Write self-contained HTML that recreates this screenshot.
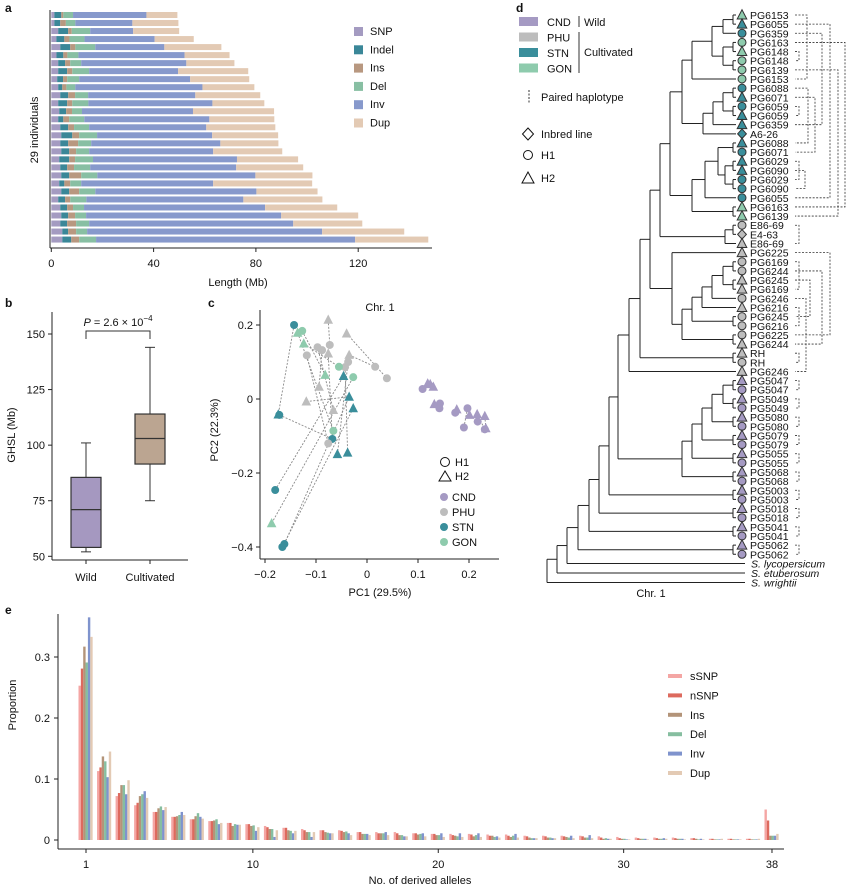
<!DOCTYPE html>
<html><head><meta charset="utf-8"><style>
html,body{margin:0;padding:0;background:#fff;}
svg{display:block;font-family:"Liberation Sans",Arial,sans-serif;}
</style></head><body>
<svg id="fig" width="851" height="889" viewBox="0 0 851 889" xmlns="http://www.w3.org/2000/svg"></svg>
<script>
// ===== Panel a data (Mb per row) =====
const aSNP=[1.2,1.2,2.7,2.0,3.5,2.0,2.7,2.7,2.3,2.7,3.5,2.7,3.1,2.7,3.5,3.9,3.5,3.9,3.1,3.5,3.9,3.1,3.9,2.7,3.5,3.9,3.5,4.3,4.3];
const aIndel=[2.7,2.3,3.9,3.1,3.9,2.7,2.7,3.5,2.3,1.6,3.1,3.5,2.7,2.0,3.1,4.3,3.1,3.1,3.9,2.7,3.1,2.0,3.1,2.7,2.7,2.7,2.7,2.3,3.5];
const aIns=[0.8,2.2,1.4,2.0,2.0,1.6,2.0,2.0,1.6,1.6,2.7,2.0,2.3,2.3,2.3,2.7,3.9,2.7,2.3,2.7,4.7,2.3,3.9,2.0,2.3,2.7,3.5,3.1,3.1];
const aDel=[3.8,3.7,7.2,5.9,7.8,4.3,4.3,6.6,4.7,3.5,5.1,6.3,3.9,5.9,5.9,7.0,5.1,5.1,7.0,6.3,6.3,4.3,6.3,6.3,4.3,4.3,5.1,4.3,6.6];
const aInv=[28.7,22.3,16.8,27.4,27.0,41.5,41.1,34.8,43.4,49.7,41.9,48.5,43.4,48.9,45.8,45.0,50.5,48.5,56.3,57.1,61.8,51.6,63.0,61.4,70.8,76.3,79.8,91.9,101.3];
const aDup=[12.1,18.0,18.0,15.3,22.3,17.6,18.8,27.4,23.1,20.3,25.4,20.3,31.7,25.4,27.0,25.8,22.7,27.0,23.9,26.2,22.3,38.7,23.9,30.9,28.2,30.1,27.0,32.1,28.6];
const aNames=["SNP","Indel","Ins","Del","Inv","Dup"];
const aTicks=[0,40,80,120];
// ===== Panel b data =====
const bGroups=["Wild","Cultivated"];
const bMin=[52,75],bQ1=[54,91.5],bMed=[71,103],bQ3=[85.5,114],bMax=[101,144];
const bTicks=[50,75,100,125,150];
// ===== Panel c data =====
const cPC1=[-0.143,-0.136,-0.127,-0.124,-0.076,-0.040,-0.118,-0.097,-0.088,-0.073,-0.076,-0.035,-0.037,-0.043,0.016,0.039,-0.055,-0.082,-0.027,-0.046,-0.094,-0.119,-0.035,-0.027,-0.066,-0.172,-0.174,-0.066,-0.068,-0.076,-0.058,-0.038,-0.180,-0.187,-0.162,-0.166,
 0.119,0.124,0.109,0.130,0.132,0.143,0.142,0.173,0.176,0.197,0.201,0.216,0.231,0.217,0.190,0.233,0.231];
const cPC2=[0.200,0.179,0.184,0.150,0.214,0.177,0.118,0.140,0.132,0.146,0.123,0.119,0.100,0.086,0.087,0.056,0.087,0.065,0.059,0.062,0.033,-0.007,0.006,-0.025,-0.030,-0.043,-0.042,-0.086,-0.108,-0.120,-0.149,-0.145,-0.246,-0.336,-0.392,-0.400,
 0.042,0.040,0.027,0.033,-0.014,-0.012,-0.025,-0.037,-0.028,-0.025,-0.043,-0.041,-0.046,-0.061,-0.077,-0.079,-0.082];
const cShape=["c","t","c","t","t","t","c","c","c","c","t","t","c","c","c","c","c","t","c","t","t","t","t","t","t","c","t","c","c","c","t","t","c","t","c","c",
 "t","t","c","t","t","c","c","c","t","c","t","t","t","c","c","t","c"];
const cGroup=["STN","GON","GON","GON","PHU","PHU","PHU","PHU","PHU","PHU","PHU","PHU","PHU","PHU","PHU","PHU","GON","GON","GON","STN","PHU","PHU","STN","STN","PHU","STN","STN","GON","STN","PHU","STN","STN","STN","GON","STN","STN",
 "CND","CND","CND","CND","CND","CND","CND","CND","CND","CND","CND","CND","CND","CND","CND","CND","CND"];
const cPairs=[[4,9],[5,15],[11,14],[6,29],[7,24],[8,20],[10,28],[1,27],[2,17],[3,16],[0,26],[25,28],[21,22],[32,19],[33,18],[34,22],[35,23],[12,30],[13,31],[36,38],[40,42],[43,44],[45,50],[46,49],[47,52],[48,51]];
const cXTicks=[-0.2,-0.1,0,0.1,0.2], cYTicks=[0.2,0,-0.2,-0.4];
// ===== Panel e data =====
const eCats=[];for(let k=1;k<=38;k++)eCats.push(k);
const eSeries=["sSNP","nSNP","Ins","Del","Inv","Dup"];
const eSSNP=[.253,.113,.072,.057,.046,.038,.034,.031,.028,.026,.023,.020,.018,.016,.016,.013,.013,.013,.011,.010,.010,.010,.009,.009,.007,.007,.007,.007,.006,.005,.004,.004,.004,.003,.002,.002,.002,.050];
const eNSNP=[.281,.119,.077,.061,.046,.038,.034,.031,.028,.026,.021,.020,.016,.016,.015,.013,.011,.011,.011,.010,.008,.009,.007,.007,.006,.006,.006,.006,.004,.003,.003,.003,.003,.003,.002,.002,.002,.032];
const eIns=[.317,.137,.090,.072,.052,.039,.039,.032,.023,.023,.018,.016,.013,.013,.013,.010,.011,.008,.009,.008,.007,.006,.007,.005,.004,.004,.005,.004,.002,.002,.002,.002,.002,.002,.001,.001,.001,.007];
const eDel=[.291,.129,.090,.075,.055,.041,.044,.034,.026,.024,.018,.015,.013,.012,.014,.010,.011,.008,.010,.008,.006,.008,.005,.007,.003,.004,.004,.004,.003,.002,.002,.002,.002,.001,.001,.001,.001,.007];
const eInv=[.365,.103,.075,.080,.049,.046,.038,.026,.025,.015,.005,.011,.005,.011,.011,.010,.013,.006,.011,.011,.011,.011,.006,.010,.003,.003,.007,.008,.002,.001,.002,.003,.002,.002,.001,.001,.001,.007];
const eDup=[.333,.145,.098,.069,.054,.041,.035,.028,.025,.021,.016,.015,.013,.011,.008,.008,.008,.006,.006,.005,.005,.005,.004,.004,.003,.003,.003,.003,.002,.001,.001,.002,.001,.001,.002,.001,.002,.010];
const eXTicks=[1,10,20,30,38], eYTicks=[0,0.1,0.2,0.3];
// ===== Panel d data =====
const dLabels=["PG6153","PG6055","PG6359","PG6163","PG6148","PG6148","PG6139","PG6153","PG6088","PG6071","PG6059","PG6059","PG6359","A6-26","PG6088","PG6071","PG6029","PG6090","PG6029","PG6090","PG6055","PG6163","PG6139","E86-69","E4-63","E86-69","PG6225","PG6169","PG6244","PG6245","PG6169","PG6246","PG6216","PG6245","PG6216","PG6225","PG6244","RH","RH","PG6246",
"PG5047","PG5047","PG5049","PG5049","PG5080","PG5080","PG5079","PG5079","PG5055","PG5055","PG5068","PG5068","PG5003","PG5003","PG5018","PG5018","PG5041","PG5041","PG5062","PG5062"];
const dShape=["t","t","c","c","t","c","c","c","c","t","c","t","t","d","t","c","t","t","c","c","c","t","t","c","d","t","t","c","c","t","t","c","t","c","c","c","t","t","c","t",
"t","c","t","c","t","c","t","c","t","c","t","c","t","c","t","c","t","c","t","c"];
const dGroup=["GON","STN","STN","GON","GON","GON","GON","GON","STN","STN","STN","STN","STN","STN","STN","STN","STN","STN","STN","STN","STN","GON","GON","PHU","PHU","PHU","PHU","PHU","PHU","PHU","PHU","PHU","PHU","PHU","PHU","PHU","PHU","PHU","PHU","PHU",
"CND","CND","CND","CND","CND","CND","CND","CND","CND","CND","CND","CND","CND","CND","CND","CND","CND","CND","CND","CND"];
const dOut=["S. lycopersicum","S. etuberosum","S. wrightii"];

const NS="http://www.w3.org/2000/svg";
const svg=document.getElementById("fig");
function el(tag,attrs,parent){const e=document.createElementNS(NS,tag);for(const k in attrs)e.setAttribute(k,attrs[k]);(parent||svg).appendChild(e);return e;}
function txt(s,x,y,attrs,parent){const t=el("text",Object.assign({x:x,y:y,"font-size":11,fill:"#111"},attrs||{}),parent);t.textContent=s;return t;}
const GC={CND:"#a59ac3",PHU:"#bdbdbd",STN:"#3a8e9b",GON:"#8ecbad"};

// panel letters
[["a",5,12],["b",5,307],["c",208,307],["d",516,12],["e",5,614]].forEach(p=>{const t=txt(p[0],p[1],p[2],{"font-weight":"bold","font-size":12});

});

// ===== Panel a =====
(function(){
const g=el("g",{});


const cols=["#a49bc1","#3a8798","#b89880","#88bfa3","#8799cc","#e3cab4"];
const series=[aSNP,aIndel,aIns,aDel,aInv,aDup];
const xs=v=>51.3+v*2.5575;
const yr=i=>15+i*8.02;
for(let i=0;i<29;i++){let acc=0;for(let s=0;s<6;s++){const v=series[s][i];
const r=el("rect",{x:xs(acc),y:yr(i)-3,width:xs(acc+v)-xs(acc),height:6,fill:cols[s]},g);


acc+=v;}}
el("line",{x1:50,y1:10,x2:50,y2:248,stroke:"#222","stroke-width":1},g);
el("line",{x1:50,y1:248,x2:432,y2:248,stroke:"#222","stroke-width":1},g);
aTicks.forEach(t=>{el("line",{x1:xs(t),y1:248,x2:xs(t),y2:252,stroke:"#222"},g);txt(String(t),xs(t),267,{"text-anchor":"middle"},g);});
const xt=txt("Length (Mb)",238,286,{"text-anchor":"middle"},g);


const yt=txt("29 individuals",38,130,{"text-anchor":"middle",transform:"rotate(-90 38 130)"},g);


aNames.forEach((n,i)=>{const y=31+i*18.3;const lg=el("g",{},g);


el("rect",{x:354,y:y-4,width:9,height:9,fill:cols[i]},lg);txt(n,370,y+4,{},lg);});
})();

// ===== Panel b =====
(function(){
const g=el("g",{});


const ys=v=>334+(150-v)*2.223;
const cx=[86,150], cols=["#a598c0","#bba591"];
el("line",{x1:52,y1:312,x2:52,y2:560,stroke:"#222"},g);
el("line",{x1:52,y1:560,x2:188,y2:560,stroke:"#222"},g);
bTicks.forEach(t=>{el("line",{x1:48,y1:ys(t),x2:52,y2:ys(t),stroke:"#222"},g);txt(String(t),45,ys(t)+4,{"text-anchor":"end"},g);});
for(let i=0;i<2;i++){const bg=el("g",{},g);


el("line",{x1:cx[i],y1:ys(bMax[i]),x2:cx[i],y2:ys(bMin[i]),stroke:"#333","stroke-width":1},bg);
el("line",{x1:cx[i]-5,y1:ys(bMin[i]),x2:cx[i]+5,y2:ys(bMin[i]),stroke:"#333"},bg);
el("line",{x1:cx[i]-5,y1:ys(bMax[i]),x2:cx[i]+5,y2:ys(bMax[i]),stroke:"#333"},bg);
el("rect",{x:cx[i]-15,y:ys(bQ3[i]),width:30,height:ys(bQ1[i])-ys(bQ3[i]),fill:cols[i],stroke:"#333","stroke-width":1.2},bg);
el("line",{x1:cx[i]-15,y1:ys(bMed[i]),x2:cx[i]+15,y2:ys(bMed[i]),stroke:"#333","stroke-width":1.2},bg);
el("line",{x1:cx[i],y1:560,x2:cx[i],y2:564,stroke:"#222"},g);
txt(bGroups[i],cx[i],581,{"text-anchor":"middle"},g);}
el("path",{d:"M86 339 V331 H150 V339",fill:"none",stroke:"#333"},g);
const p=el("text",{x:118,y:326,"font-size":11,"text-anchor":"middle",fill:"#111"},g);
p.innerHTML='<tspan font-style="italic">P</tspan> = 2.6 × 10<tspan dy="-5" font-size="8">−4</tspan>';
const yt=txt("GHSL (Mb)",15,435,{"text-anchor":"middle",transform:"rotate(-90 15 435)"},g);


})();

// ===== Panel c =====
function marker(g,shape,x,y,fill,stroke,sz){
 if(shape==="c")return el("circle",{cx:x,cy:y,r:sz*0.5,fill:fill,stroke:stroke||"none"},g);
 if(shape==="t"){const h=sz*1.1;return el("polygon",{points:`${x},${y-h*0.6} ${x-sz*0.6},${y+h*0.45} ${x+sz*0.6},${y+h*0.45}`,fill:fill,stroke:stroke||"none"},g);}
 return el("polygon",{points:`${x},${y-sz*0.6} ${x+sz*0.55},${y} ${x},${y+sz*0.6} ${x-sz*0.55},${y}`,fill:fill,stroke:stroke||"none"},g);
}
(function(){
const g=el("g",{});


const xs=v=>367+v*510, ys=v=>399-v*370;
el("line",{x1:260,y1:310,x2:260,y2:559,stroke:"#222"},g);
el("line",{x1:260,y1:559,x2:499,y2:559,stroke:"#222"},g);
cXTicks.forEach(t=>{el("line",{x1:xs(t),y1:559,x2:xs(t),y2:563,stroke:"#222"},g);txt(t===0?"0":String(t).replace("-","−"),xs(t),578,{"text-anchor":"middle"},g);});
cYTicks.forEach(t=>{el("line",{x1:256,y1:ys(t),x2:260,y2:ys(t),stroke:"#222"},g);txt(t===0?"0":String(t).replace("-","−"),253,ys(t)+4,{"text-anchor":"end"},g);});
cPairs.forEach(p=>{const l=el("line",{x1:xs(cPC1[p[0]]),y1:ys(cPC2[p[0]]),x2:xs(cPC1[p[1]]),y2:ys(cPC2[p[1]]),stroke:"#8a8a8a","stroke-width":0.9,"stroke-dasharray":"2,1.5"},g);

});
for(let i=0;i<cPC1.length;i++){const m=marker(g,cShape[i],xs(cPC1[i]),ys(cPC2[i]),GC[cGroup[i]],null,8);

}
txt("Chr. 1",380,311,{"text-anchor":"middle"},g);
txt("PC1 (29.5%)",380,596,{"text-anchor":"middle"},g);
txt("PC2 (22.3%)",218,430,{"text-anchor":"middle",transform:"rotate(-90 218 430)"},g);
const lg=el("g",{},g);


el("circle",{cx:445,cy:462,r:4.5,fill:"none",stroke:"#111"},lg);txt("H1",455,466,{},lg);
el("polygon",{points:"445,471 439,481 451,481",fill:"none",stroke:"#111"},lg);txt("H2",455,480,{},lg);
["CND","PHU","STN","GON"].forEach((n,i)=>{const y=497+i*15;el("circle",{cx:444,cy:y,r:4,fill:GC[n]},lg);txt(n,452,y+4,{},lg);});
})();

// ===== Panel d =====
(function(){
const g=el("g",{});


const LY=i=>i<=60?15+(i-1)*9.14:[563.5,573,582.5][i-61];
const TIP=736;
const C2=(a,b)=>[733,a,b];
const A1=[692,[712,[723,C2(1,2),3],[723,C2(4,5),C2(6,7)]],8];
const A2=[703,[713,[723,C2(9,10),C2(11,12)],13],14];
const A3=[692,[705,[718,C2(15,16),[725,C2(17,18),C2(19,20)]],21],C2(22,23)];
const A=[670,[682,A1,A2],A3];
const E=[725,C2(24,25),26];
const P1=[702,[712,[723,C2(28,29),C2(30,31)],32],33];
const P2=[682,[692,P1,C2(34,35)],C2(36,37)];
const T=[629,[640,[650,[660,A,E],[672,27,P2]],C2(38,39)],40];
const Cc=[682,[692,[702,[712,[723,C2(41,42),C2(43,44)],C2(45,46)],C2(47,48)],C2(49,50)],C2(51,52)];
const root=[547,[557,[567,[578,[589,[599,[609,[618,T,Cc],C2(53,54)],C2(55,56)],C2(57,58)],C2(59,60)],61],62],63];
const col="#222";
function draw(n){ if(typeof n==="number") return LY(n);
 const ys=n.slice(1).map(c=>{const y=draw(c);const cx=typeof c==="number"?(c>60?745:TIP):c[0];el("line",{x1:n[0],y1:y,x2:cx,y2:y,stroke:col,"stroke-width":1},g);return y;});
 el("line",{x1:n[0],y1:Math.min(...ys),x2:n[0],y2:Math.max(...ys),stroke:col,"stroke-width":1},g);
 return (Math.min(...ys)+Math.max(...ys))/2;}
draw(root);
for(let i=1;i<=60;i++){const y=LY(i);
const m=marker(g,dShape[i-1],742,y,GC[dGroup[i-1]],"#333",8);


const t=txt(dLabels[i-1],750,y+4,{"font-size":10.5},g);

}
dOut.forEach((s,i)=>{const t=txt(s,751,LY(61+i)+4,{"font-size":10.5,"font-style":"italic"},g);

});
const pairs=[[1,8,807],[2,21,830],[3,13,822],[4,22,845],[5,6,799],[7,23,838],[9,15,808],[10,16,815],[11,12,799],[17,19,799],[18,20,805],[24,26,799],[27,36,830],[28,31,799],[29,37,822],[30,34,810],[32,40,806],[33,35,799],[38,39,799]];
for(let k=41;k<60;k+=2)pairs.push([k,k+1,799]);
pairs.forEach(p=>{const y1=LY(p[0]),y2=LY(p[1]);
el("path",{d:`M795 ${y1} H${p[2]} V${y2} H795`,fill:"none",stroke:"#333","stroke-width":0.8,"stroke-dasharray":"2,1.5"},g);});
txt("Chr. 1",651,597,{"text-anchor":"middle"},g);
// legend
const lg=el("g",{},g);


["CND","PHU","STN","GON"].forEach((n,i)=>{const y=22+i*15.5;el("rect",{x:519,y:y-5,width:19,height:9,fill:GC[n]},lg);txt(n,547,y+4,{},lg);});
el("line",{x1:579,y1:16,x2:579,y2:27,stroke:"#333"},lg);txt("Wild",584,26,{},lg);
el("line",{x1:579,y1:32,x2:579,y2:73,stroke:"#333"},lg);txt("Cultivated",584,56,{},lg);
el("line",{x1:529,y1:90,x2:529,y2:104,stroke:"#333","stroke-dasharray":"2,1.5"},lg);txt("Paired haplotype",541,101,{},lg);
marker(lg,"d",528,134,"#fff","#111",10);txt("Inbred line",541,138,{},lg);
el("circle",{cx:528,cy:155,r:4.5,fill:"#fff",stroke:"#111"},lg);txt("H1",541,159,{},lg);
el("polygon",{points:"528,172 522,183 534,183",fill:"#fff",stroke:"#111"},lg);txt("H2",541,182,{},lg);
})();

// ===== Panel e =====
(function(){
const g=el("g",{});


const cols=["#f4a6a4","#dd6a5e","#b39479","#86bea0","#7f93cd","#e3cab4"];
const series=[eSSNP,eNSNP,eIns,eDel,eInv,eDup];
const xs=k=>86+(k-1)*18.54, ys=v=>840-v*610;
for(let c=0;c<eCats.length;c++){for(let s=0;s<6;s++){const v=series[s][c];
const r=el("rect",{x:xs(eCats[c])-7.5+s*2.35,y:ys(v),width:2.4,height:ys(0)-ys(v),fill:cols[s]},g);

}}
el("line",{x1:58,y1:614,x2:58,y2:849,stroke:"#222"},g);
el("line",{x1:58,y1:849,x2:784,y2:849,stroke:"#222"},g);
eYTicks.forEach(t=>{el("line",{x1:54,y1:ys(t),x2:58,y2:ys(t),stroke:"#222"},g);txt(t===0?"0":String(t),50,ys(t)+4,{"text-anchor":"end"},g);});
eXTicks.forEach(t=>{el("line",{x1:xs(t),y1:849,x2:xs(t),y2:853,stroke:"#222"},g);txt(String(t),xs(t),868,{"text-anchor":"middle"},g);});
txt("No. of derived alleles",420,884,{"text-anchor":"middle"},g);
txt("Proportion",16,705,{"text-anchor":"middle",transform:"rotate(-90 16 705)"},g);
eSeries.forEach((n,i)=>{const y=676+i*19.4;const lg=el("g",{},g);


el("rect",{x:668,y:y-2,width:14,height:4,fill:cols[i]},lg);txt(n,690,y+4,{},lg);});
})();
</script>
</body></html>
